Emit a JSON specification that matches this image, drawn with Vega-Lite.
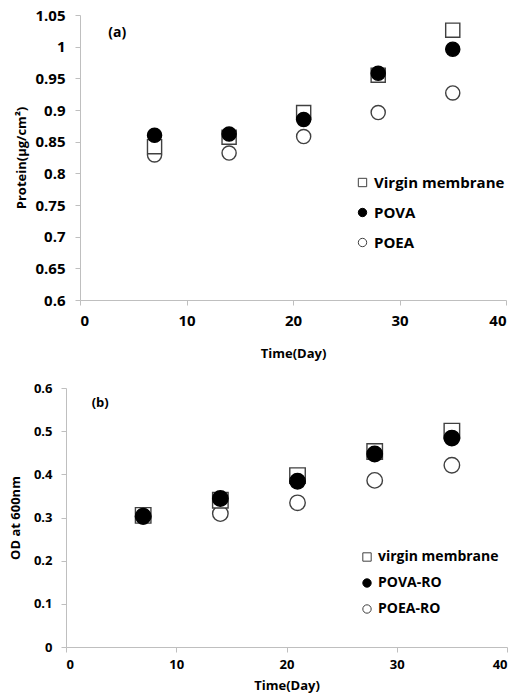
{
  "$schema": "https://vega.github.io/schema/vega-lite/v6.json",
  "padding": {"left": 9, "top": 8, "right": 5, "bottom": 3},
  "background": "white",
  "datasets": {
    "protein": [
      {"series": "POEA", "day": 7, "value": 0.829},
      {"series": "POEA", "day": 14, "value": 0.832},
      {"series": "POEA", "day": 21, "value": 0.858},
      {"series": "POEA", "day": 28, "value": 0.896},
      {"series": "POEA", "day": 35, "value": 0.927},
      {"series": "Virgin membrane", "day": 7, "value": 0.842},
      {"series": "Virgin membrane", "day": 14, "value": 0.857},
      {"series": "Virgin membrane", "day": 21, "value": 0.896},
      {"series": "Virgin membrane", "day": 28, "value": 0.955},
      {"series": "Virgin membrane", "day": 35, "value": 1.026},
      {"series": "POVA", "day": 7, "value": 0.86},
      {"series": "POVA", "day": 14, "value": 0.862},
      {"series": "POVA", "day": 21, "value": 0.885},
      {"series": "POVA", "day": 28, "value": 0.958},
      {"series": "POVA", "day": 35, "value": 0.996}
    ],
    "od": [
      {"series": "POEA-RO", "day": 7, "value": 0.302},
      {"series": "POEA-RO", "day": 14, "value": 0.309},
      {"series": "POEA-RO", "day": 21, "value": 0.334},
      {"series": "POEA-RO", "day": 28, "value": 0.386},
      {"series": "POEA-RO", "day": 35, "value": 0.421},
      {"series": "virgin membrane", "day": 7, "value": 0.305},
      {"series": "virgin membrane", "day": 14, "value": 0.34},
      {"series": "virgin membrane", "day": 21, "value": 0.397},
      {"series": "virgin membrane", "day": 28, "value": 0.453},
      {"series": "virgin membrane", "day": 35, "value": 0.5},
      {"series": "POVA-RO", "day": 7, "value": 0.303},
      {"series": "POVA-RO", "day": 14, "value": 0.344},
      {"series": "POVA-RO", "day": 21, "value": 0.384},
      {"series": "POVA-RO", "day": 28, "value": 0.447},
      {"series": "POVA-RO", "day": 35, "value": 0.484}
    ],
    "noteA": [{"day": 3.5, "value": 1.022, "label": "(a)"}],
    "noteB": [{"day": 3.1, "value": 0.565, "label": "(b)"}]
  },
  "vconcat": [
    {
      "width": 440,
      "height": 285,
      "encoding": {
        "x": {"field": "day", "type": "quantitative", "scale": {"domain": [0, 40], "nice": false, "range": [14, 440]},
          "axis": {"values": [0, 10, 20, 30, 40], "title": "Time(Day)", "titlePadding": 19, "labelPadding": 8}},
        "y": {"field": "value", "type": "quantitative", "scale": {"domain": [0.6, 1.05], "nice": false, "zero": false},
          "axis": {"values": [0.6, 0.65, 0.7, 0.75, 0.8, 0.85, 0.9, 0.95, 1, 1.05], "format": ".2~f", "title": "Protein(μg/cm²)", "titlePadding": 6, "labelPadding": 10, "offset": -14, "labelOverlap": false}}
      },
      "layer": [
        {
          "data": {"name": "protein"},
          "mark": {"type": "point", "opacity": 1, "strokeWidth": 1.4, "size": 200},
          "encoding": {
            "shape": {"field": "series", "type": "nominal",
              "scale": {"domain": ["Virgin membrane", "POVA", "POEA"], "range": ["square", "circle", "circle"]},
              "legend": {"orient": "none", "legendX": 289, "legendY": 160, "title": null, "labelFontSize": 15, "labelFontWeight": "bold", "symbolSize": 70, "rowPadding": 14, "symbolStrokeWidth": 1, "labelOffset": 4, "padding": 0, "labelColor": "black"}},
            "fill": {"field": "series", "type": "nominal",
              "scale": {"domain": ["Virgin membrane", "POVA", "POEA"], "range": ["white", "black", "white"]}},
            "stroke": {"field": "series", "type": "nominal",
              "scale": {"domain": ["Virgin membrane", "POVA", "POEA"], "range": ["#404040", "black", "#404040"]}}
          }
        },
        {
          "data": {"name": "noteA"},
          "mark": {"type": "text", "fontSize": 14, "fontWeight": "bold", "color": "black"},
          "encoding": {"text": {"field": "label"}}
        }
      ]
    },
    {
      "width": 441,
      "height": 259,
      "encoding": {
        "x": {"field": "day", "type": "quantitative", "scale": {"domain": [0, 40], "nice": false},
          "axis": {"values": [0, 10, 20, 30, 40], "title": "Time(Day)", "titlePadding": 8, "labelPadding": 6, "labelFontSize": 13, "titleFontSize": 13}},
        "y": {"field": "value", "type": "quantitative", "scale": {"domain": [0, 0.6], "nice": false},
          "axis": {"values": [0, 0.1, 0.2, 0.3, 0.4, 0.5, 0.6], "format": ".1~f", "title": "OD at 600nm", "titlePadding": 11, "labelPadding": 9, "labelFontSize": 13, "labelOverlap": false}}
      },
      "layer": [
        {
          "data": {"name": "od"},
          "mark": {"type": "point", "opacity": 1, "strokeWidth": 1.4, "size": 240},
          "encoding": {
            "shape": {"field": "series", "type": "nominal",
              "scale": {"domain": ["virgin membrane", "POVA-RO", "POEA-RO"], "range": ["square", "circle", "circle"]},
              "legend": {"orient": "none", "legendX": 294, "legendY": 162, "title": null, "labelFontSize": 14, "labelFontWeight": "bold", "symbolSize": 70, "rowPadding": 12, "symbolStrokeWidth": 1, "labelOffset": 4, "padding": 0, "labelColor": "black"}},
            "fill": {"field": "series", "type": "nominal",
              "scale": {"domain": ["virgin membrane", "POVA-RO", "POEA-RO"], "range": ["white", "black", "white"]}},
            "stroke": {"field": "series", "type": "nominal",
              "scale": {"domain": ["virgin membrane", "POVA-RO", "POEA-RO"], "range": ["#404040", "black", "#404040"]}}
          }
        },
        {
          "data": {"name": "noteB"},
          "mark": {"type": "text", "fontSize": 13, "fontWeight": "bold", "color": "black"},
          "encoding": {"text": {"field": "label"}}
        }
      ]
    }
  ],
  "spacing": 22,
  "resolve": {
    "scale": {"x": "independent", "y": "independent", "shape": "independent", "fill": "independent", "stroke": "independent"}
  },
  "config": {
    "font": "Open Sans",
    "view": {"stroke": null},
    "axis": {
      "grid": false,
      "domainColor": "#bfbfbf",
      "tickColor": "#bfbfbf",
      "tickSize": 5,
      "labelColor": "black",
      "labelFontWeight": "bold",
      "labelFontSize": 15,
      "titleColor": "black",
      "titleFontWeight": "bold",
      "titleFontSize": 13
    }
  }
}
